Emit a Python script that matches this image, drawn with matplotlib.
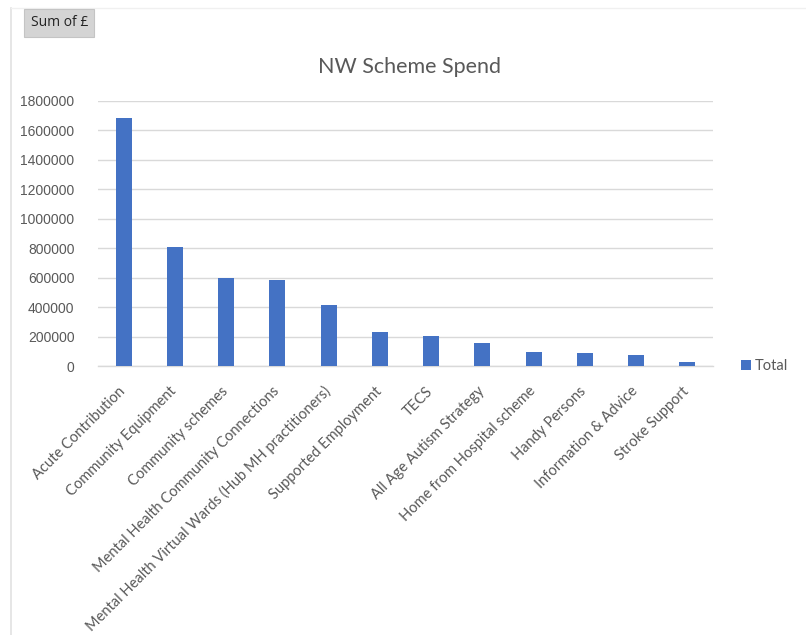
import matplotlib

matplotlib.use("Agg")
import matplotlib.pyplot as plt
from matplotlib.lines import Line2D
from matplotlib.patches import Patch
from matplotlib.transforms import ScaledTranslation

categories = [
    "Acute Contribution",
    "Community Equipment",
    "Community schemes",
    "Mental Health Community Connections",
    "Mental Health Virtual Wards (Hub MH practitioners)",
    "Supported Employment",
    "TECS",
    "All Age Autism Strategy",
    "Home from Hospital scheme",
    "Handy Persons",
    "Information & Advice",
    "Stroke Support",
]
totals = [1685000, 810000, 600000, 581000, 411000, 234000,
          207000, 155000, 95000, 89000, 73000, 30000]
y_ticks = [0, 200000, 400000, 600000, 800000, 1000000,
           1200000, 1400000, 1600000, 1800000]

BAR = "#4472C4"
GREY = "#595959"
GRID = "#D9D9D9"
LABEL_FONT = ["Lato", "DejaVu Sans"]

fig = plt.figure(figsize=(8.06, 6.35), dpi=100)
ax = fig.add_axes([0.1216, 0.4236, 0.7630, 0.4174])

x = range(len(categories))
ax.bar(x, totals, width=0.31, color=BAR, zorder=3, label="Total")

ax.set_xlim(-0.5, len(categories) - 0.5)
ax.set_ylim(0, 1800000)
ax.set_yticks(y_ticks)
ax.set_yticklabels([str(v) for v in y_ticks], fontsize=10,
                   color=GREY, family=["Liberation Sans"])
ax.set_xticks(list(x))
ax.set_xticklabels(categories, rotation=45, ha="right",
                   rotation_mode="anchor", fontsize=10.5,
                   color=GREY, family=LABEL_FONT)
ax.tick_params(axis="y", length=0, pad=17)
ax.tick_params(axis="x", length=0, pad=13)
ax.grid(axis="y", color=GRID, linewidth=1.0, zorder=0)
for side in ("top", "right", "left"):
    ax.spines[side].set_visible(False)
ax.spines["bottom"].set_color(GRID)
ax.spines["bottom"].set_linewidth(1.0)

# shift the slanted labels a little left so they end under the bars
shift = ScaledTranslation(-4 / 72, 0, fig.dpi_scale_trans)
for lbl in ax.get_xticklabels():
    lbl.set_transform(lbl.get_transform() + shift)

fig.text(0.508, 0.894, "NW Scheme Spend", ha="center", va="center",
         fontsize=15.5, color=GREY, family=LABEL_FONT)

# legend to the right of the plot area
fig.legend(handles=[Patch(facecolor=BAR, label="Total")],
           loc="center left", bbox_to_anchor=(0.903, 0.4236),
           frameon=False, handlelength=0.7,
           handleheight=0.7, handletextpad=0.25,
           labelcolor=GREY, prop={"family": LABEL_FONT, "size": 10.5})

# pivot field button
fig.text(0.0735, 0.964, "Sum of £", ha="center", va="center",
         fontsize=10, color="#222222", family=["Open Sans", "DejaVu Sans"],
         bbox=dict(boxstyle="square,pad=0.45", facecolor="#D4D4D4",
                   edgecolor="#C4C4C4", linewidth=0.8))

# sheet border
fig.add_artist(Line2D([0.0136, 0.0136], [0.0, 0.987],
                      color="#E2E2E2", linewidth=1.2))
fig.add_artist(Line2D([0.0136, 0.999], [0.987, 0.987],
                      color="#F0F0F0", linewidth=1.0))

fig.savefig("out.png", dpi=100, facecolor="white")
